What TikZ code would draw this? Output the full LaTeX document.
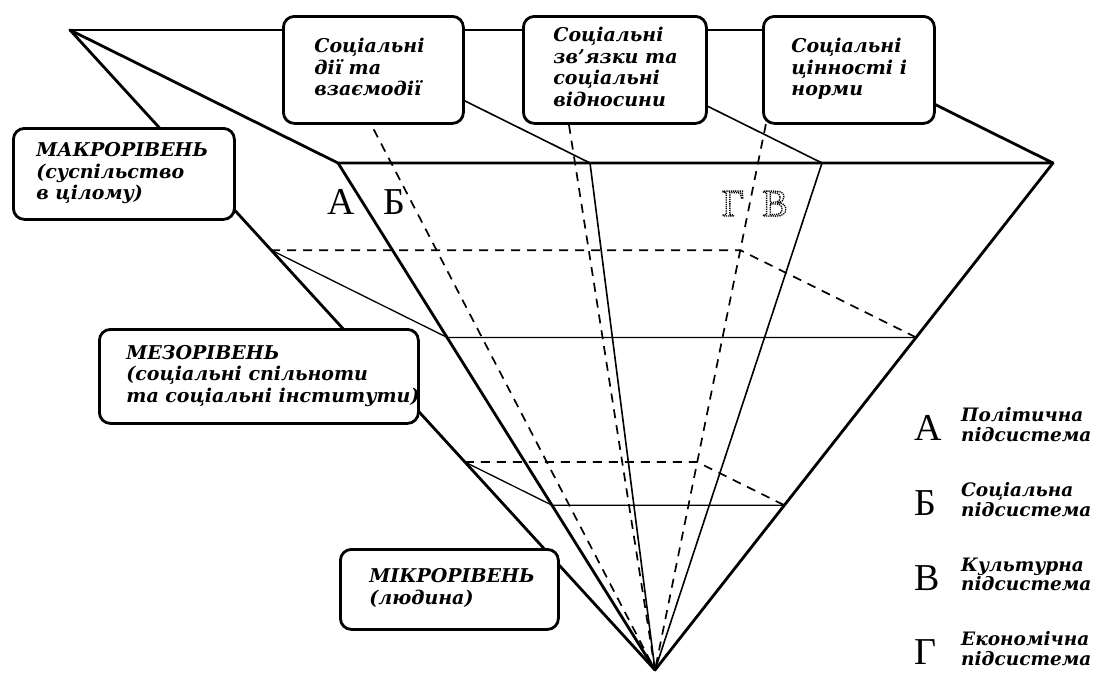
\documentclass[tikz,border=0pt]{standalone}
\usepackage{fontspec}
\setmainfont{DejaVu Serif}
\newfontfamily\letterfont{Liberation Serif}
\usetikzlibrary{calc}
\newcommand{\boxfont}{\fontsize{19}{21.5}\selectfont\bfseries\itshape}
\newcommand{\legfont}{\fontsize{18.5}{18.5}\selectfont\bfseries\itshape}
\newcommand{\dotglyph}[1]{\special{pdf:literal direct 1 Tr 1.3 w [1.3 0.9] 0 d}#1\special{pdf:literal direct 0 Tr [] 0 d}}
\newcommand{\boxlines}[2]{\makebox[#1][l]{\begin{tabular}{@{}l@{}}#2\end{tabular}}}
\begin{document}
\begin{tikzpicture}[x=1pt,y=-1pt,
  edgethick/.style={line width=2.8pt, line cap=round, line join=round},
  planeline/.style={line width=1.6pt},
  levelline/.style={line width=1.3pt},
  hiddenline/.style={line width=1.7pt, dash pattern=on 9pt off 7pt},
  box/.style={draw, line width=2.8pt, rounded corners=11pt, fill=white, anchor=north west, font=\boxfont, inner ysep=0pt},
  letter/.style={font=\letterfont\fontsize{38}{38}\selectfont, inner sep=0pt},
  legtext/.style={font=\legfont, anchor=west, inner sep=0pt}
]
\useasboundingbox (0,0) rectangle (1097,672);
\fill[white] (0,0) rectangle (1097,672);

% pyramid vertices
\coordinate (BL) at (70,30);
\coordinate (BR) at (785,30);
\coordinate (FR) at (1053,163);
\coordinate (FL) at (338,163);
\coordinate (apex) at (655,670);
% section planes
\coordinate (P1b) at (322,30);
\coordinate (P1f) at (590,163);
\coordinate (P2b) at (554,30);
\coordinate (P2f) at (822,163);
% level sections
\coordinate (L1BL) at ($(apex)!0.656!(BL)$);
\coordinate (L1BR) at ($(apex)!0.656!(BR)$);
\coordinate (L1FR) at ($(apex)!0.656!(FR)$);
\coordinate (L1FL) at ($(apex)!0.656!(FL)$);
\coordinate (L2BL) at ($(apex)!0.325!(BL)$);
\coordinate (L2BR) at ($(apex)!0.325!(BR)$);
\coordinate (L2FR) at ($(apex)!0.325!(FR)$);
\coordinate (L2FL) at ($(apex)!0.325!(FL)$);

% hidden lines
\draw[hiddenline] (P1b) -- (apex);
\draw[hiddenline] (P2b) -- (apex);
\draw[hiddenline] (BR) -- (apex);
\draw[hiddenline] (L1BL) -- (L1BR) -- (L1FR);
\draw[hiddenline] (L2BL) -- (L2BR) -- (L2FR);

% level sections visible parts
\draw[levelline] (L1BL) -- (L1FL) -- (L1FR);
\draw[levelline] (L2BL) -- (L2FL) -- (L2FR);

% section planes
\draw[planeline] (P1b) -- (P1f) -- (apex);
\draw[planeline] (P2b) -- (P2f) -- (apex);

% pyramid edges
\draw[edgethick] (BL) -- (BR);
\draw[edgethick] (BL) -- (FL) -- (FR) -- (BR);
\draw[edgethick] (BL) -- (apex);
\draw[edgethick] (FL) -- (apex);
\draw[edgethick] (FR) -- (apex);

% boxes
\node[box, minimum width=180pt, minimum height=107pt, inner xsep=31pt] (b1) at (282,15) {\boxlines{118pt}{Соціальні\\дії та\\взаємодії}};
\node[box, minimum width=183pt, minimum height=107pt, inner xsep=30pt] (b2) at (522,15) {\boxlines{123pt}{Соціальні\\зв'язки та\\соціальні\\відносини}};
\node[box, minimum width=171pt, minimum height=107pt, inner xsep=28pt] (b3) at (762,15) {\boxlines{115pt}{Соціальні\\цінності і\\норми}};
\node[box, minimum width=221pt, minimum height=91pt, inner xsep=23pt] (macro) at (12,127) {\boxlines{175pt}{МАКРОРІВЕНЬ\\(суспільство\\в цілому)}};
\node[box, minimum width=319pt, minimum height=94pt, inner xsep=27pt] (meso) at (98,328) {\boxlines{265pt}{МЕЗОРІВЕНЬ\\(соціальні спільноти\\та соціальні інститути)}};
\node[box, minimum width=218pt, minimum height=80pt, inner xsep=29pt] (micro) at (339,548) {\boxlines{160pt}{МІКРОРІВЕНЬ\\(людина)}};

% letters inside pyramid
\node[letter, anchor=base] (inA) at (341,214) {А};
\node[letter, anchor=base] (inB) at (394,214) {Б};
\node[letter, anchor=base] (inG) at (733,216) {\dotglyph{Г}};
\node[letter, anchor=base] (inV) at (775,216) {\dotglyph{В}};

% legend
\node[letter, anchor=base west] (kA) at (914,440) {А};
\node[legtext] (tA) at (961,427) {\begin{tabular}{@{}l@{}}Політична\\підсистема\end{tabular}};
\node[letter, anchor=base west] (kB) at (914,515) {Б};
\node[legtext] (tB) at (961,502) {\begin{tabular}{@{}l@{}}Соціальна\\підсистема\end{tabular}};
\node[letter, anchor=base west] (kV) at (914,590) {В};
\node[legtext] (tV) at (961,577) {\begin{tabular}{@{}l@{}}Культурна\\підсистема\end{tabular}};
\node[letter, anchor=base west] (kG) at (914,664) {Г};
\node[legtext] (tG) at (961,651) {\begin{tabular}{@{}l@{}}Економічна\\підсистема\end{tabular}};
\end{tikzpicture}
\end{document}
